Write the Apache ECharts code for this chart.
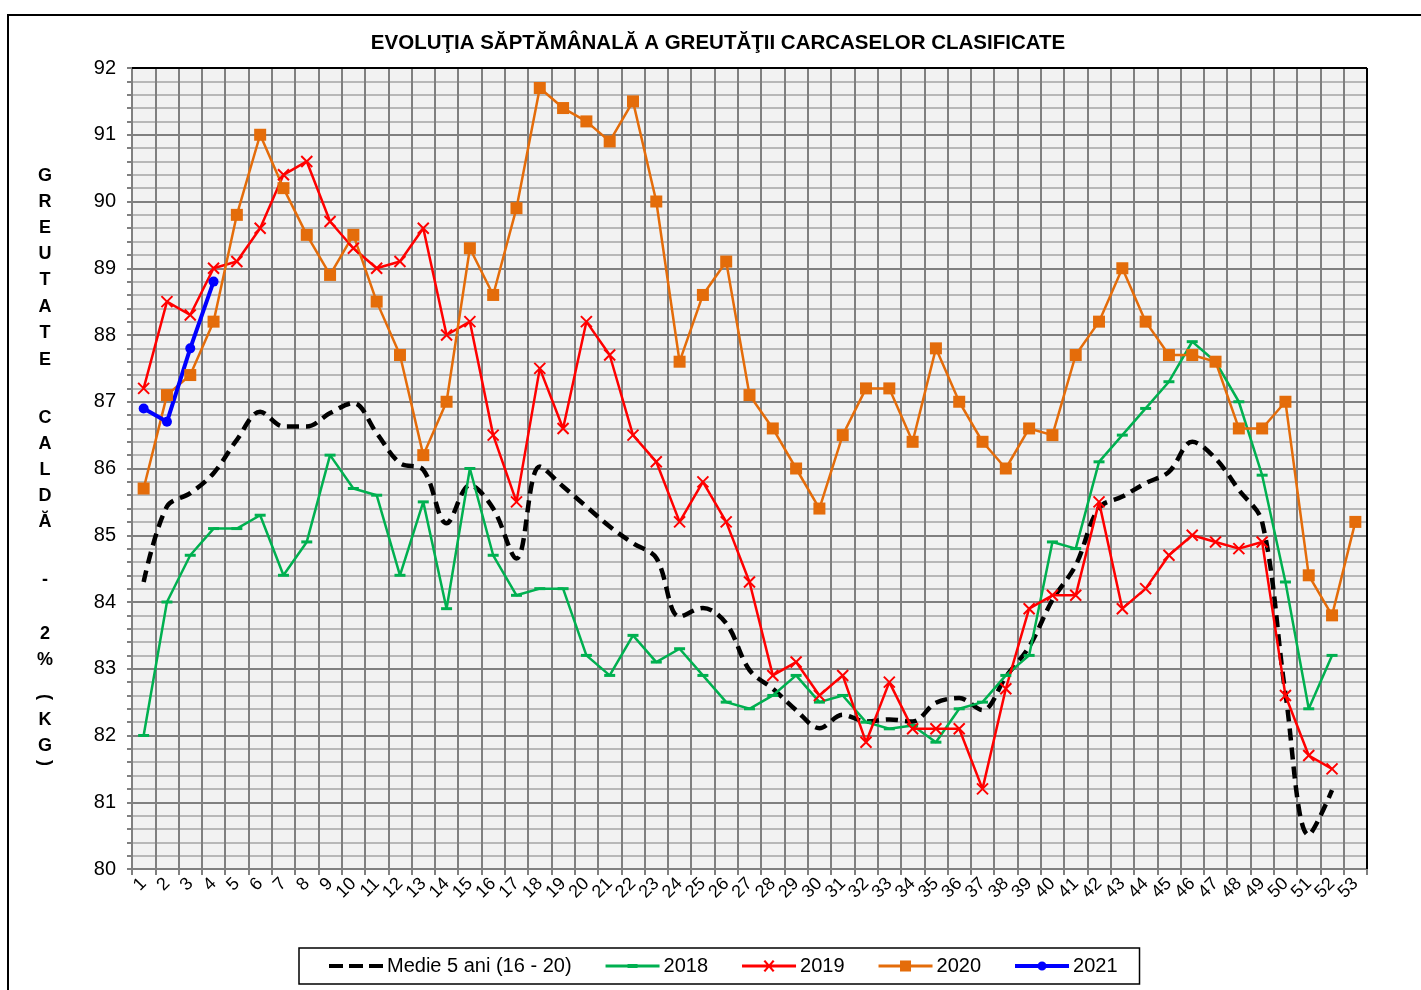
<!DOCTYPE html>
<html>
<head>
<meta charset="utf-8">
<script src="https://cdn.jsdelivr.net/npm/echarts@6/dist/echarts.min.js"></script>
<style>
html,body{margin:0;padding:0;background:#fff;}
#chart{width:1421px;height:990px;}
</style>
</head>
<body>
<div id="chart"></div>
<script>
// ---- data ----
var weeks = ['1','2','3','4','5','6','7','8','9','10','11','12','13','14','15','16','17','18','19','20','21','22','23','24','25','26','27','28','29','30','31','32','33','34','35','36','37','38','39','40','41','42','43','44','45','46','47','48','49','50','51','52','53'];
var medie = [84.3, 85.43, 85.63, 85.93, 86.43, 86.85, 86.63, 86.63, 86.83, 86.98, 86.53, 86.08, 85.98, 85.18, 85.75, 85.4, 84.65, 86.03, 85.73, 85.43, 85.13, 84.88, 84.66, 83.78, 83.91, 83.68, 82.98, 82.7, 82.38, 82.11, 82.31, 82.21, 82.24, 82.21, 82.49, 82.56, 82.38, 82.88, 83.33, 84.03, 84.55, 85.41, 85.58, 85.78, 85.95, 86.4, 86.15, 85.68, 85.2, 82.63, 80.51, 81.18];
var y2018 = [82.0, 84.0, 84.7, 85.1, 85.1, 85.3, 84.4, 84.9, 86.2, 85.7, 85.6, 84.4, 85.5, 83.9, 86.0, 84.7, 84.1, 84.2, 84.2, 83.2, 82.9, 83.5, 83.1, 83.3, 82.9, 82.5, 82.4, 82.6, 82.9, 82.5, 82.6, 82.2, 82.1, 82.15, 81.9, 82.4, 82.5, 82.9, 83.2, 84.9, 84.8, 86.1, 86.5, 86.9, 87.3, 87.9, 87.6, 87.0, 85.9, 84.3, 82.4, 83.2];
var y2019 = [87.2, 88.5, 88.3, 89.0, 89.1, 89.6, 90.4, 90.6, 89.7, 89.3, 89.0, 89.1, 89.6, 88.0, 88.2, 86.5, 85.5, 87.5, 86.6, 88.2, 87.7, 86.5, 86.1, 85.2, 85.8, 85.2, 84.3, 82.9, 83.1, 82.6, 82.9, 81.9, 82.8, 82.1, 82.1, 82.1, 81.2, 82.7, 83.9, 84.1, 84.1, 85.5, 83.9, 84.2, 84.7, 85.0, 84.9, 84.8, 84.9, 82.6, 81.7, 81.5];
var y2020 = [85.7, 87.1, 87.4, 88.2, 89.8, 91.0, 90.2, 89.5, 88.9, 89.5, 88.5, 87.7, 86.2, 87.0, 89.3, 88.6, 89.9, 91.7, 91.4, 91.2, 90.9, 91.5, 90.0, 87.6, 88.6, 89.1, 87.1, 86.6, 86.0, 85.4, 86.5, 87.2, 87.2, 86.4, 87.8, 87.0, 86.4, 86.0, 86.6, 86.5, 87.7, 88.2, 89.0, 88.2, 87.7, 87.7, 87.6, 86.6, 86.6, 87.0, 84.4, 83.8, 85.2];
var y2021 = [86.9, 86.7, 87.8, 88.8];
var seriesNames = ['Medie 5 ani (16 - 20)', '2018', '2019', '2020', '2021'];
var titleText = 'EVOLUŢIA SĂPTĂMÂNALĂ A GREUTĂŢII CARCASELOR CLASIFICATE';
var yTitleChars = ['G','R','E','U','T','A','T','E','C','A','L','D','Ă','-','2','%','(','K','G',')'];

// ---- layout ----
var G = {left: 132, right: 1367, top: 68, bottom: 869};
var W = 1421, H = 990;
var FONT = '"Liberation Sans", Arial, sans-serif';

var chart = echarts.init(document.getElementById('chart'), null, {renderer: 'canvas'});

// legend icons (54 x 12 box, tiny corner anchors keep the box size)
var anchors = 'M0,0L0.01,0L0,0.01Z M54,12L53.99,12L54,11.99Z ';
var lineBar = 'M0,4.5L54,4.5L54,7.5L0,7.5Z ';
var iconMedie = 'path://' + anchors + 'M0,4L14,4L14,8L0,8Z M20,4L34,4L34,8L20,8Z M40,4L54,4L54,8L40,8Z';
var icon2018 = 'path://' + anchors + lineBar + 'M22,4L32,4L32,8L22,8Z';
var icon2019 = 'path://' + anchors + lineBar + 'M21.5,1.2L23.2,0L32.5,10.8L30.8,12Z M30.8,0L32.5,1.2L23.2,12L21.5,10.8Z';
var icon2020 = 'path://' + anchors + lineBar + 'M21.5,0.5L32.5,0.5L32.5,11.5L21.5,11.5Z';
var icon2021 = 'path://' + anchors + 'M0,4L54,4L54,8L0,8Z M27,1.5A4.5,4.5 0 1,1 26.99,1.5Z';

var yTitleY = [176,202,228,254,280,307,333,360,418,444,470,496,522,580,634,660,697,720,746,763];
var graphics = [];
graphics.push({type:'rect', shape:{x:8, y:15, width:1430, height:1000}, style:{fill:'none', stroke:'#000', lineWidth:2}, z:0, silent:true});
graphics.push({type:'text', x:718, y:43, style:{text:titleText, font:'bold 20.5px ' + FONT, fill:'#000', textAlign:'center', textVerticalAlign:'middle'}, z:10});
for (var i = 0; i < yTitleChars.length; i++) {
  var ch = yTitleChars[i];
  var el = {type:'text', x:45, y:yTitleY[i], style:{text:ch, font:'bold 18px ' + FONT, fill:'#000', textAlign:'center', textVerticalAlign:'middle'}, z:10};
  if (ch === '(' || ch === ')') { el.rotation = -Math.PI/2; }
  graphics.push(el);
}
graphics.push({type:'line', shape:{x1:G.left, y1:G.top, x2:G.right, y2:G.top}, style:{stroke:'#000', lineWidth:2}, z:20});
graphics.push({type:'line', shape:{x1:G.right, y1:G.top, x2:G.right, y2:G.bottom}, style:{stroke:'#000', lineWidth:2}, z:20});

var xPath = 'path://M0,0L10,10M10,0L0,10';

var option = {
  animation: false,
  backgroundColor: '#fff',
  grid: {left: G.left, right: W - G.right, top: G.top, bottom: H - G.bottom, show: true, backgroundColor: '#f2f2f2', borderWidth: 0},
  legend: {
    left: 299, top: 948,
    padding: [8, 22, 8, 30],
    itemGap: 34, itemWidth: 54, itemHeight: 12,
    borderColor: '#000', borderWidth: 1.5, backgroundColor: '#fff',
    itemStyle: {borderWidth: 0},
    textStyle: {fontFamily: FONT, fontSize: 20, color: '#000', padding: [0, 0, 0, -1]},
    data: [
      {name: seriesNames[0], icon: iconMedie},
      {name: seriesNames[1], icon: icon2018},
      {name: seriesNames[2], icon: icon2019},
      {name: seriesNames[3], icon: icon2020},
      {name: seriesNames[4], icon: icon2021}
    ]
  },
  xAxis: {
    type: 'category', data: weeks, boundaryGap: true,
    axisLine: {lineStyle: {color: '#808080', width: 2}},
    axisTick: {show: true, length: 6, interval: 0, lineStyle: {color: '#808080', width: 2}},
    axisLabel: {interval: 0, rotate: 45, margin: 12, fontFamily: FONT, fontSize: 18, color: '#000'},
    splitLine: {show: true, interval: 0, lineStyle: {color: '#808080', width: 2}}
  },
  yAxis: {
    type: 'value', min: 80, max: 92, interval: 1,
    axisLine: {show: true, lineStyle: {color: '#808080', width: 2}},
    axisTick: {show: true, length: 5, lineStyle: {color: '#808080', width: 2}},
    minorTick: {show: true, splitNumber: 5, length: 5, lineStyle: {color: '#808080', width: 2}},
    axisLabel: {margin: 16, fontFamily: FONT, fontSize: 20, color: '#000'},
    splitLine: {show: true, lineStyle: {color: '#808080', width: 2}},
    minorSplitLine: {show: true, lineStyle: {color: '#b8b8b8', width: 2}}
  },
  series: [
    {name: seriesNames[0], type: 'line', data: medie, smooth: 0.35, symbol: 'none',
     lineStyle: {color: '#000', width: 4.5, type: [12, 7]}, itemStyle: {color: '#000'}},
    {name: seriesNames[1], type: 'line', data: y2018, symbol: 'rect', symbolSize: [11, 3],
     lineStyle: {color: '#00b050', width: 2.5}, itemStyle: {color: '#00b050'}},
    {name: seriesNames[2], type: 'line', data: y2019, symbol: xPath, symbolSize: 11,
     lineStyle: {color: '#ff0000', width: 2.5}, itemStyle: {color: '#ff0000', borderColor: '#ff0000', borderWidth: 2}},
    {name: seriesNames[3], type: 'line', data: y2020, symbol: 'rect', symbolSize: 12,
     lineStyle: {color: '#e46c0a', width: 2.5}, itemStyle: {color: '#e46c0a'}},
    {name: seriesNames[4], type: 'line', data: y2021, symbol: 'circle', symbolSize: 10,
     lineStyle: {color: '#0000ff', width: 4}, itemStyle: {color: '#0000ff'}}
  ],
  graphic: graphics
};
chart.setOption(option);
</script>
</body>
</html>
